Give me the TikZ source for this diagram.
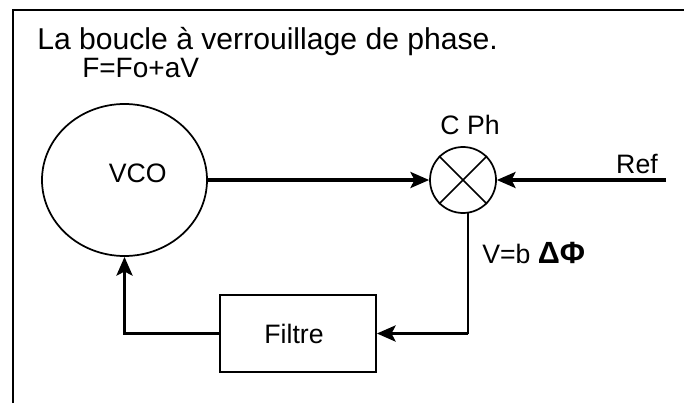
\documentclass[tikz,border=0pt]{standalone}
\usepackage{fontspec}
\setmainfont{Liberation Sans}
\usetikzlibrary{shapes.geometric,arrows.meta}

\begin{document}
\begin{tikzpicture}[x=0.75pt,y=-0.75pt,
  blk/.style={draw,line width=1.3pt,inner sep=0pt},
  flow/.style={line width=2.4pt,-{Stealth[length=14pt,width=12pt,inset=3pt]}},
  wire/.style={line width=1.3pt},
  lbl/.style={inner sep=0pt,font=\fontsize{20}{22}\selectfont}]
  \useasboundingbox (0,0) rectangle (684,403);
  % cadre
  \draw[line width=2.2pt] (13,403) -- (13,10) -- (684,10);
  \node[inner sep=0pt,anchor=base west,font=\fontsize{22.6}{24}\selectfont] (titre) at (37,50) {La boucle à verrouillage de phase.};
  \node[lbl,anchor=base west,font=\fontsize{21}{23}\selectfont] (loi) at (82,78) {F=Fo+aV};
  % blocs
  \node[blk,ellipse,minimum width=123.75pt,minimum height=114pt,
    label={[lbl,xshift=10pt,yshift=5pt]center:VCO}] (vco) at (124.5,180) {};
  \node[blk,circle,minimum size=49.5pt] (cph) at (463,180) {};
  \draw[wire] (cph.north west) -- (cph.south east);
  \draw[wire] (cph.north east) -- (cph.south west);
  \node[lbl] (cphtext) at (470,125) {C Ph};
  \node[blk,rectangle,minimum width=117pt,minimum height=57.75pt] (filtre) at (298,333.5) {};
  \node[lbl] at (filtre.center) [xshift=-3pt] {Filtre};
  \coordinate (ref) at (666,180);
  \node[lbl,anchor=base east] (reftext) at (658,173) {Ref};
  \node[lbl,anchor=base west] (vphi) at (482,263) {V=b {\fontsize{23}{25}\selectfont\bfseries ΔΦ}};
  % liaisons
  \coordinate (coude) at (filtre.east -| cph.-81);
  \draw[flow] (vco.east) -- (cph.west);
  \draw[flow] (ref) -- (cph.east);
  \draw[wire] (cph.-81) -- (coude);
  \draw[flow] (coude) -- (filtre.east);
  \draw[flow] (filtre.west) -| (vco.south);
\end{tikzpicture}
\end{document}
